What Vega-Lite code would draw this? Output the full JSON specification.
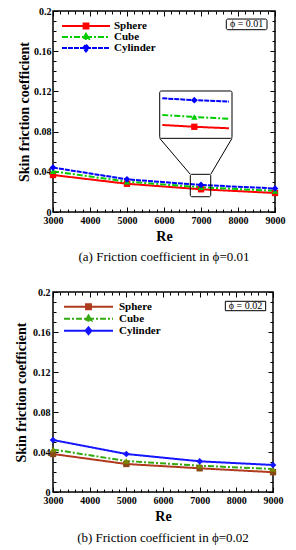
{
  "$schema": "https://vega.github.io/schema/vega-lite/v6.json",
  "background": "white",
  "padding": {"left": 13, "top": 5, "right": 0, "bottom": 0},
  "config": {
    "font": "Liberation Serif",
    "view": {"stroke": "black", "strokeWidth": 1.5},
    "axis": {
      "grid": false, "domain": false, "tickColor": "black", "tickWidth": 1,
      "labelColor": "black", "labelFont": "Liberation Serif", "labelFontWeight": "bold", "labelFontSize": 10,
      "titleColor": "black", "titleFont": "Liberation Serif", "titleFontWeight": "bold", "titleFontSize": 14
    }
  },
  "datasets": {
    "p1": [
      {"shape": "Sphere", "Re": 3000, "Cf": 0.0368},
      {"shape": "Sphere", "Re": 5000, "Cf": 0.0281},
      {"shape": "Sphere", "Re": 7000, "Cf": 0.0226},
      {"shape": "Sphere", "Re": 9000, "Cf": 0.0189},
      {"shape": "Cube", "Re": 3000, "Cf": 0.0405},
      {"shape": "Cube", "Re": 5000, "Cf": 0.0302},
      {"shape": "Cube", "Re": 7000, "Cf": 0.0246},
      {"shape": "Cube", "Re": 9000, "Cf": 0.0210},
      {"shape": "Cylinder", "Re": 3000, "Cf": 0.0442},
      {"shape": "Cylinder", "Re": 5000, "Cf": 0.0325},
      {"shape": "Cylinder", "Re": 7000, "Cf": 0.0269},
      {"shape": "Cylinder", "Re": 9000, "Cf": 0.0234}
    ],
    "inset1": [
      {"shape": "Cylinder", "Re": 5954, "Cf": 0.1131},
      {"shape": "Cylinder", "Re": 6819, "Cf": 0.1113},
      {"shape": "Cylinder", "Re": 7757, "Cf": 0.1098},
      {"shape": "Cube", "Re": 5954, "Cf": 0.0965},
      {"shape": "Cube", "Re": 6819, "Cf": 0.0946},
      {"shape": "Cube", "Re": 7757, "Cf": 0.0928},
      {"shape": "Sphere", "Re": 5954, "Cf": 0.0866},
      {"shape": "Sphere", "Re": 6819, "Cf": 0.0848},
      {"shape": "Sphere", "Re": 7757, "Cf": 0.0833}
    ],
    "insetpts1": [
      {"shape": "Cylinder", "Re": 6819, "Cf": 0.1113},
      {"shape": "Cube", "Re": 6819, "Cf": 0.0946},
      {"shape": "Sphere", "Re": 6819, "Cf": 0.0848}
    ],
    "frames1": [
      {"x0": 5884, "x1": 7838, "y0": 0.0733, "y1": 0.1204},
      {"x0": 6711, "x1": 7263, "y0": 0.0152, "y1": 0.0375},
      {"x0": 7684, "x1": 8784, "y0": 0.1814, "y1": 0.1920}
    ],
    "conn1": [
      {"x0": 5884, "y0": 0.0733, "x1": 6711, "y1": 0.0375},
      {"x0": 7838, "y0": 0.0733, "x1": 7263, "y1": 0.0375}
    ],
    "phi1": [{"label": "ϕ = 0.01", "Re": 8234, "Cf": 0.1866}],
    "p2": [
      {"shape": "Sphere", "Re": 3000, "Cf": 0.0380},
      {"shape": "Sphere", "Re": 5000, "Cf": 0.0280},
      {"shape": "Sphere", "Re": 7000, "Cf": 0.0237},
      {"shape": "Sphere", "Re": 9000, "Cf": 0.0198},
      {"shape": "Cube", "Re": 3000, "Cf": 0.0425},
      {"shape": "Cube", "Re": 5000, "Cf": 0.0310},
      {"shape": "Cube", "Re": 7000, "Cf": 0.0263},
      {"shape": "Cube", "Re": 9000, "Cf": 0.0230},
      {"shape": "Cylinder", "Re": 3000, "Cf": 0.0520},
      {"shape": "Cylinder", "Re": 5000, "Cf": 0.0380},
      {"shape": "Cylinder", "Re": 7000, "Cf": 0.0307},
      {"shape": "Cylinder", "Re": 9000, "Cf": 0.0270}
    ],
    "frames2": [{"x0": 7700, "x1": 8800, "y0": 0.1813, "y1": 0.1907}],
    "phi2": [{"label": "ϕ = 0.02", "Re": 8250, "Cf": 0.1860}]
  },
  "spacing": 21,
  "align": "none",
  "resolve": {
    "scale": {"color": "independent", "strokeDash": "independent"},
    "legend": {"color": "independent", "strokeDash": "independent"}
  },
  "vconcat": [
    {
      "width": 222, "height": 201,
      "title": {"text": "(a) Friction coefficient in  ϕ=0.01", "orient": "bottom", "anchor": "middle", "font": "Liberation Serif", "fontSize": 13, "fontWeight": "normal", "color": "black", "offset": 8},
      "resolve": {"axis": {"x": "independent", "y": "independent"}},
      "layer": [
        {
          "data": {"name": "p1"},
          "mark": {"type": "line", "strokeWidth": 2},
          "encoding": {
            "x": {"field": "Re", "type": "quantitative", "scale": {"domain": [3000, 9000], "nice": false, "zero": false},
                  "axis": {"orient": "bottom", "values": [3000, 4000, 5000, 6000, 7000, 8000, 9000], "format": "d", "tickSize": -5, "labelPadding": 8, "labelFlush": false, "labelOverlap": false, "title": "Re", "titlePadding": 4}},
            "y": {"field": "Cf", "type": "quantitative", "scale": {"domain": [0, 0.2], "nice": false},
                  "axis": {"orient": "left", "values": [0, 0.04, 0.08, 0.12, 0.16, 0.2], "format": "~g", "tickSize": -5, "labelPadding": 7, "labelFlush": false, "labelOverlap": false, "title": "Skin friction coefficient", "titlePadding": 2}},
            "color": {"field": "shape", "type": "nominal",
                      "scale": {"domain": ["Sphere", "Cube", "Cylinder"], "range": ["#ff0000", "#00cc00", "#0000ff"]},
                      "legend": {"title": null, "orient": "none", "legendX": 8, "legendY": 10, "padding": 0, "symbolSize": 2304, "symbolStrokeWidth": 2, "clipHeight": 10, "labelOffset": 3, "labelFont": "Liberation Serif", "labelFontWeight": "bold", "labelFontSize": 11, "labelColor": "black", "rowPadding": 0,
                                 "encode": {"symbols": {"update": {
                                   "shape": {"signal": "datum.value === 'Sphere' ? 'M-1,0H1M-0.1,-0.1H0.1V0.1H-0.1Z' : datum.value === 'Cube' ? 'M-1,0H1M0,-0.13L0.12,0.08H-0.12Z' : 'M-1,0H1M0,-0.14L0.12,0L0,0.14L-0.12,0Z'"},
                                   "fill": {"signal": "datum.value === 'Sphere' ? '#ff0000' : datum.value === 'Cube' ? '#00cc00' : '#0000ff'"}}}}}},
            "strokeDash": {"field": "shape", "type": "nominal",
                           "scale": {"domain": ["Sphere", "Cube", "Cylinder"], "range": [[1, 0], [6, 2, 2, 2], [5, 1]]},
                           "legend": {"title": null, "orient": "none", "legendX": 8, "legendY": 10, "padding": 0, "symbolSize": 2304, "symbolStrokeWidth": 2, "clipHeight": 10, "labelOffset": 3, "labelFont": "Liberation Serif", "labelFontWeight": "bold", "labelFontSize": 11, "labelColor": "black", "rowPadding": 0}}
          }
        },
        {
          "data": {"name": "p1"},
          "transform": [{"filter": {"field": "shape", "equal": "Sphere"}}],
          "mark": {"type": "point", "shape": "square", "filled": true, "size": 40, "opacity": 1, "color": "#ff0000"},
          "encoding": {
            "x": {"field": "Re", "type": "quantitative", "scale": {"domain": [3000, 9000], "nice": false, "zero": false},
                  "axis": {"orient": "top", "values": [3000, 4000, 5000, 6000, 7000, 8000, 9000], "tickSize": -5, "labels": false, "title": null}},
            "y": {"field": "Cf", "type": "quantitative", "scale": {"domain": [0, 0.2], "nice": false},
                  "axis": {"orient": "right", "values": [0, 0.04, 0.08, 0.12, 0.16, 0.2], "tickSize": -5, "labels": false, "title": null}}
          }
        },
        {
          "data": {"name": "p1"},
          "transform": [{"filter": {"field": "shape", "equal": "Cube"}}],
          "mark": {"type": "point", "shape": "triangle-up", "filled": true, "size": 40, "opacity": 1, "color": "#00cc00"},
          "encoding": {
            "x": {"field": "Re", "type": "quantitative", "scale": {"domain": [3000, 9000], "nice": false, "zero": false}, "axis": null},
            "y": {"field": "Cf", "type": "quantitative", "scale": {"domain": [0, 0.2], "nice": false}, "axis": null}
          }
        },
        {
          "data": {"name": "p1"},
          "transform": [{"filter": {"field": "shape", "equal": "Cylinder"}}],
          "mark": {"type": "point", "shape": "diamond", "filled": true, "size": 45, "opacity": 1, "color": "#0000ff"},
          "encoding": {
            "x": {"field": "Re", "type": "quantitative", "scale": {"domain": [3000, 9000], "nice": false, "zero": false}, "axis": null},
            "y": {"field": "Cf", "type": "quantitative", "scale": {"domain": [0, 0.2], "nice": false}, "axis": null}
          }
        },
        {
          "data": {"name": "inset1"},
          "mark": {"type": "line", "strokeWidth": 2},
          "encoding": {
            "x": {"field": "Re", "type": "quantitative", "scale": {"domain": [3000, 9000], "nice": false, "zero": false},
                  "axis": {"orient": "bottom", "values": [3200, 3400, 3600, 3800, 4200, 4400, 4600, 4800, 5200, 5400, 5600, 5800, 6200, 6400, 6600, 6800, 7200, 7400, 7600, 7800, 8200, 8400, 8600, 8800], "tickSize": -3, "labels": false, "title": null}},
            "y": {"field": "Cf", "type": "quantitative", "scale": {"domain": [0, 0.2], "nice": false},
                  "axis": {"orient": "left", "values": [0.01, 0.02, 0.03, 0.05, 0.06, 0.07, 0.09, 0.1, 0.11, 0.13, 0.14, 0.15, 0.17, 0.18, 0.19], "tickSize": -3, "labels": false, "title": null}},
            "color": {"field": "shape", "type": "nominal", "scale": {"domain": ["Sphere", "Cube", "Cylinder"], "range": ["#ff0000", "#00cc00", "#0000ff"]}},
            "strokeDash": {"field": "shape", "type": "nominal", "scale": {"domain": ["Sphere", "Cube", "Cylinder"], "range": [[1, 0], [6, 2, 2, 2], [5, 1]]}}
          }
        },
        {
          "data": {"name": "insetpts1"},
          "transform": [{"filter": {"field": "shape", "equal": "Sphere"}}],
          "mark": {"type": "point", "shape": "square", "filled": true, "size": 40, "opacity": 1, "color": "#ff0000"},
          "encoding": {
            "x": {"field": "Re", "type": "quantitative", "scale": {"domain": [3000, 9000], "nice": false, "zero": false},
                  "axis": {"orient": "top", "values": [3200, 3400, 3600, 3800, 4200, 4400, 4600, 4800, 5200, 5400, 5600, 5800, 6200, 6400, 6600, 6800, 7200, 7400, 7600, 7800, 8200, 8400, 8600, 8800], "tickSize": -3, "labels": false, "title": null}},
            "y": {"field": "Cf", "type": "quantitative", "scale": {"domain": [0, 0.2], "nice": false},
                  "axis": {"orient": "right", "values": [0.01, 0.02, 0.03, 0.05, 0.06, 0.07, 0.09, 0.1, 0.11, 0.13, 0.14, 0.15, 0.17, 0.18, 0.19], "tickSize": -3, "labels": false, "title": null}}
          }
        },
        {
          "data": {"name": "insetpts1"},
          "transform": [{"filter": {"field": "shape", "equal": "Cube"}}],
          "mark": {"type": "point", "shape": "triangle-up", "filled": true, "size": 40, "opacity": 1, "color": "#00cc00"},
          "encoding": {
            "x": {"field": "Re", "type": "quantitative", "scale": {"domain": [3000, 9000], "nice": false, "zero": false}, "axis": null},
            "y": {"field": "Cf", "type": "quantitative", "scale": {"domain": [0, 0.2], "nice": false}, "axis": null}
          }
        },
        {
          "data": {"name": "insetpts1"},
          "transform": [{"filter": {"field": "shape", "equal": "Cylinder"}}],
          "mark": {"type": "point", "shape": "diamond", "filled": true, "size": 45, "opacity": 1, "color": "#0000ff"},
          "encoding": {
            "x": {"field": "Re", "type": "quantitative", "scale": {"domain": [3000, 9000], "nice": false, "zero": false}, "axis": null},
            "y": {"field": "Cf", "type": "quantitative", "scale": {"domain": [0, 0.2], "nice": false}, "axis": null}
          }
        },
        {
          "data": {"name": "frames1"},
          "mark": {"type": "rect", "fill": "transparent", "stroke": "black", "strokeWidth": 1, "cornerRadius": 1.5},
          "encoding": {
            "x": {"field": "x0", "type": "quantitative", "scale": {"domain": [3000, 9000], "nice": false, "zero": false}, "axis": null},
            "x2": {"field": "x1"},
            "y": {"field": "y0", "type": "quantitative", "scale": {"domain": [0, 0.2], "nice": false}, "axis": null},
            "y2": {"field": "y1"}
          }
        },
        {
          "data": {"name": "conn1"},
          "mark": {"type": "rule", "color": "black", "strokeWidth": 1},
          "encoding": {
            "x": {"field": "x0", "type": "quantitative", "scale": {"domain": [3000, 9000], "nice": false, "zero": false}, "axis": null},
            "x2": {"field": "x1"},
            "y": {"field": "y0", "type": "quantitative", "scale": {"domain": [0, 0.2], "nice": false}, "axis": null},
            "y2": {"field": "y1"}
          }
        },
        {
          "data": {"name": "phi1"},
          "mark": {"type": "text", "font": "Liberation Serif", "fontSize": 10, "color": "black"},
          "encoding": {
            "x": {"field": "Re", "type": "quantitative", "scale": {"domain": [3000, 9000], "nice": false, "zero": false}, "axis": null},
            "y": {"field": "Cf", "type": "quantitative", "scale": {"domain": [0, 0.2], "nice": false}, "axis": null},
            "text": {"field": "label"}
          }
        }
      ]
    },
    {
      "width": 220, "height": 200,
      "title": {"text": "(b) Friction coefficient in  ϕ=0.02", "orient": "bottom", "anchor": "middle", "font": "Liberation Serif", "fontSize": 13, "fontWeight": "normal", "color": "black", "offset": 9},
      "resolve": {"axis": {"x": "independent", "y": "independent"}},
      "layer": [
        {
          "data": {"name": "p2"},
          "mark": {"type": "line", "strokeWidth": 2},
          "encoding": {
            "x": {"field": "Re", "type": "quantitative", "scale": {"domain": [3000, 9000], "nice": false, "zero": false},
                  "axis": {"orient": "bottom", "values": [3000, 4000, 5000, 6000, 7000, 8000, 9000], "format": "d", "tickSize": -5, "labelPadding": 8, "labelFlush": false, "labelOverlap": false, "title": "Re", "titlePadding": 4}},
            "y": {"field": "Cf", "type": "quantitative", "scale": {"domain": [0, 0.2], "nice": false},
                  "axis": {"orient": "left", "values": [0, 0.04, 0.08, 0.12, 0.16, 0.2], "format": "~g", "tickSize": -5, "labelPadding": 8, "labelFlush": false, "labelOverlap": false, "title": "Skin friction coefficient", "titlePadding": 4}},
            "color": {"field": "shape", "type": "nominal",
                      "scale": {"domain": ["Sphere", "Cube", "Cylinder"], "range": ["#b03a1e", "#33aa11", "#1515ff"]},
                      "legend": {"title": null, "orient": "none", "legendX": 10, "legendY": 9.5, "padding": 0, "symbolSize": 2401, "symbolStrokeWidth": 2, "clipHeight": 10.5, "labelOffset": 5, "labelFont": "Liberation Serif", "labelFontWeight": "bold", "labelFontSize": 11, "labelColor": "black", "rowPadding": 0,
                                 "encode": {"symbols": {"update": {
                                   "shape": {"signal": "datum.value === 'Sphere' ? 'M-1,0H1M-0.1,-0.1H0.1V0.1H-0.1Z' : datum.value === 'Cube' ? 'M-1,0H1M0,-0.13L0.12,0.08H-0.12Z' : 'M-1,0H1M0,-0.14L0.12,0L0,0.14L-0.12,0Z'"},
                                   "fill": {"signal": "datum.value === 'Sphere' ? '#8b4a14' : datum.value === 'Cube' ? '#7a8a00' : '#1515ff'"}}}}}},
            "strokeDash": {"field": "shape", "type": "nominal",
                           "scale": {"domain": ["Sphere", "Cube", "Cylinder"], "range": [[1, 0], [6, 2, 2, 2], [1, 0]]},
                           "legend": {"title": null, "orient": "none", "legendX": 10, "legendY": 9.5, "padding": 0, "symbolSize": 2401, "symbolStrokeWidth": 2, "clipHeight": 10.5, "labelOffset": 5, "labelFont": "Liberation Serif", "labelFontWeight": "bold", "labelFontSize": 11, "labelColor": "black", "rowPadding": 0}}
          }
        },
        {
          "data": {"name": "p2"},
          "transform": [{"filter": {"field": "shape", "equal": "Sphere"}}],
          "mark": {"type": "point", "shape": "square", "filled": true, "size": 40, "opacity": 1, "color": "#8b4a14"},
          "encoding": {
            "x": {"field": "Re", "type": "quantitative", "scale": {"domain": [3000, 9000], "nice": false, "zero": false},
                  "axis": {"orient": "top", "values": [3000, 4000, 5000, 6000, 7000, 8000, 9000], "tickSize": -5, "labels": false, "title": null}},
            "y": {"field": "Cf", "type": "quantitative", "scale": {"domain": [0, 0.2], "nice": false},
                  "axis": {"orient": "right", "values": [0, 0.04, 0.08, 0.12, 0.16, 0.2], "tickSize": -5, "labels": false, "title": null}}
          }
        },
        {
          "data": {"name": "p2"},
          "transform": [{"filter": {"field": "shape", "equal": "Cube"}}],
          "mark": {"type": "point", "shape": "triangle-up", "filled": true, "size": 40, "opacity": 1, "color": "#7a8a00"},
          "encoding": {
            "x": {"field": "Re", "type": "quantitative", "scale": {"domain": [3000, 9000], "nice": false, "zero": false}, "axis": null},
            "y": {"field": "Cf", "type": "quantitative", "scale": {"domain": [0, 0.2], "nice": false}, "axis": null}
          }
        },
        {
          "data": {"name": "p2"},
          "transform": [{"filter": {"field": "shape", "equal": "Cylinder"}}],
          "mark": {"type": "point", "shape": "diamond", "filled": true, "size": 45, "opacity": 1, "color": "#1515ff"},
          "encoding": {
            "x": {"field": "Re", "type": "quantitative", "scale": {"domain": [3000, 9000], "nice": false, "zero": false}, "axis": null},
            "y": {"field": "Cf", "type": "quantitative", "scale": {"domain": [0, 0.2], "nice": false}, "axis": null}
          }
        },
        {
          "data": {"name": "frames2"},
          "mark": {"type": "rect", "fill": "transparent", "stroke": "black", "strokeWidth": 1},
          "encoding": {
            "x": {"field": "x0", "type": "quantitative", "scale": {"domain": [3000, 9000], "nice": false, "zero": false},
                  "axis": {"orient": "bottom", "values": [3200, 3400, 3600, 3800, 4200, 4400, 4600, 4800, 5200, 5400, 5600, 5800, 6200, 6400, 6600, 6800, 7200, 7400, 7600, 7800, 8200, 8400, 8600, 8800], "tickSize": -3, "labels": false, "title": null}},
            "x2": {"field": "x1"},
            "y": {"field": "y0", "type": "quantitative", "scale": {"domain": [0, 0.2], "nice": false},
                  "axis": {"orient": "left", "values": [0.01, 0.02, 0.03, 0.05, 0.06, 0.07, 0.09, 0.1, 0.11, 0.13, 0.14, 0.15, 0.17, 0.18, 0.19], "tickSize": -3, "labels": false, "title": null}},
            "y2": {"field": "y1"}
          }
        },
        {
          "data": {"name": "phi2"},
          "mark": {"type": "text", "font": "Liberation Serif", "fontSize": 10, "color": "black"},
          "encoding": {
            "x": {"field": "Re", "type": "quantitative", "scale": {"domain": [3000, 9000], "nice": false, "zero": false},
                  "axis": {"orient": "top", "values": [3200, 3400, 3600, 3800, 4200, 4400, 4600, 4800, 5200, 5400, 5600, 5800, 6200, 6400, 6600, 6800, 7200, 7400, 7600, 7800, 8200, 8400, 8600, 8800], "tickSize": -3, "labels": false, "title": null}},
            "y": {"field": "Cf", "type": "quantitative", "scale": {"domain": [0, 0.2], "nice": false},
                  "axis": {"orient": "right", "values": [0.01, 0.02, 0.03, 0.05, 0.06, 0.07, 0.09, 0.1, 0.11, 0.13, 0.14, 0.15, 0.17, 0.18, 0.19], "tickSize": -3, "labels": false, "title": null}},
            "text": {"field": "label"}
          }
        }
      ]
    }
  ]
}
